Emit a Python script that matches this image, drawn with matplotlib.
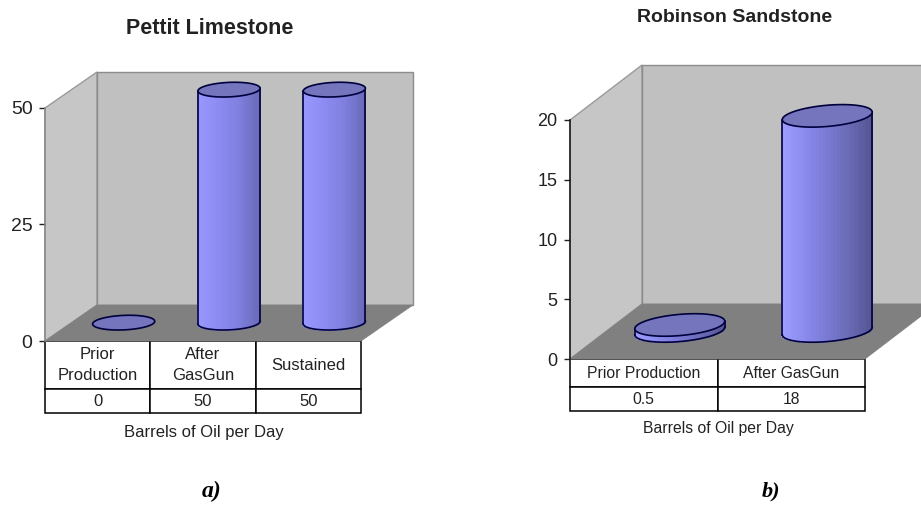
"""GasGun oil production, two 3D style cylinder charts"""
import numpy as np
import matplotlib
matplotlib.use('Agg')
import matplotlib.pyplot as plt
from matplotlib.colors import LinearSegmentedColormap

plt.rcParams['font.family'] = ['Liberation Sans', 'DejaVu Sans']

W, H = 921, 505

pettit_title = 'Pettit Limestone'
pettit_categories = ['Prior\nProduction', 'After\nGasGun', 'Sustained']
pettit_values = [0, 50, 50]
pettit_table = ['0', '50', '50']
pettit_ticks = [0, 25, 50]

robinson_title = 'Robinson Sandstone'
robinson_categories = ['Prior Production', 'After GasGun']
robinson_values = [0.5, 18]
robinson_table = ['0.5', '18']
robinson_ticks = [0, 5, 10, 15, 20]

xlabel = 'Barrels of Oil per Day'
EDGE = '#00003c'


def make_axes(fig, left, right, top, bottom):
    return fig.add_axes([left / W, 1 - bottom / H, (right - left) / W, (bottom - top) / H])


def draw_cylinder(ax, pos, value, ox, oy, cmap, half_w, tilt):
    a = half_w
    b = tilt * ox
    c = 0.205 * oy
    cx = pos + 0.5 + ox / 2
    cy = oy * 0.51
    t_right = np.arctan2(b, a)
    t = np.linspace(t_right + np.pi, t_right + 2 * np.pi, 41)
    xs = cx + a * np.cos(t) + b * np.sin(t)
    front = cy + c * np.sin(t)

    if value > 0:
        X = np.array([xs, xs])
        Y = np.array([front, front + value])
        mid = (xs[:-1] + xs[1:]) / 2
        C = ((mid - xs[0]) / (xs[-1] - xs[0]))[None, :]
        ax.pcolormesh(X, Y, C, cmap=cmap, vmin=0, vmax=1, clip_on=False, zorder=3,
                      edgecolors='face', linewidth=0.2)
        ax.plot(xs, front, color=EDGE, lw=1.2, clip_on=False, zorder=4)
        ax.plot([xs[0], xs[0]], [front[0], front[0] + value], color=EDGE, lw=1.2, clip_on=False, zorder=4)
        ax.plot([xs[-1], xs[-1]], [front[-1], front[-1] + value], color=EDGE, lw=1.2, clip_on=False, zorder=4)

    t = np.linspace(0, 2 * np.pi, 80)
    ax.fill(cx + a * np.cos(t) + b * np.sin(t), cy + value + c * np.sin(t),
            facecolor='#7575bd', edgecolor=EDGE, lw=1.2, clip_on=False, zorder=5)


def draw_panel(fig, box, depth, title, title_xy, categories, values, table, ticks, label_xy,
               row_px, tag, tag_x, axis_color, cmap, half_w, tilt, sizes):
    left, right, top, bottom = box
    title_size, tick_size, text_size, tag_size = sizes
    n = len(categories)
    ymax = ticks[-1]
    ax = make_axes(fig, left, right, top, bottom)
    ax.patch.set_visible(False)
    ax.set_xlim(0, n)
    ax.set_ylim(0, ymax)

    # depth offset of the back wall in data units
    ox = depth[0] / (right - left) * n
    oy = depth[1] / (bottom - top) * ymax

    ax.fill([0, 0, ox, ox], [0, ymax, ymax + oy, oy], facecolor='#c6c6c6',
            edgecolor='#9a9a9a', lw=1, clip_on=False, zorder=1)
    ax.fill([ox, ox, n + ox, n + ox], [oy, ymax + oy, ymax + oy, oy], facecolor='#c0c0c0',
            edgecolor='#8c8c8c', lw=1, clip_on=False, zorder=1)
    ax.fill([0, ox, n + ox, n], [0, oy, oy, 0], facecolor='#808080',
            edgecolor='#808080', lw=0.5, clip_on=False, zorder=2)

    for i, v in enumerate(values):
        draw_cylinder(ax, i, v, ox, oy, cmap, half_w, tilt)
    ax.set_xlim(0, n)
    ax.set_ylim(0, ymax)

    for side in ['top', 'right', 'bottom']:
        ax.spines[side].set_visible(False)
    ax.spines['left'].set_color(axis_color)
    ax.spines['left'].set_linewidth(1.1)
    ax.set_xticks([])
    ax.set_yticks(ticks)
    ax.tick_params(axis='y', length=4, width=1, color='#222222', pad=5, labelsize=tick_size,
                   labelcolor='#222222')

    h1, h2 = row_px
    total = (h1 + h2) / (bottom - top)
    tb = ax.table(cellText=[table], colLabels=categories, cellLoc='center',
                  bbox=[0, -total, 1, total])
    tb.auto_set_font_size(False)
    tb.set_fontsize(text_size)
    for j in range(n):
        tb[(0, j)].set_height(h1)
        tb[(1, j)].set_height(h2)
        tb[(0, j)].get_text().set_linespacing(1.45)
        for r in range(2):
            tb[(r, j)].set_linewidth(1.1)
            tb[(r, j)].get_text().set_color('#222222')

    fig.text(title_xy[0] / W, 1 - title_xy[1] / H, title, ha='center', va='center',
             fontsize=title_size, fontweight='bold', color='#222222')
    fig.text(label_xy[0] / W, 1 - label_xy[1] / H, xlabel, ha='center', va='center',
             fontsize=text_size, color='#222222')
    fig.text(tag_x / W, 1 - 491 / H, tag, ha='center', va='center', fontsize=tag_size,
             family='Liberation Serif', fontweight='bold', fontstyle='italic', color='black')


def main():
    fig = plt.figure(figsize=(W / 100, H / 100), dpi=100, facecolor='white')
    cmap_a = LinearSegmentedColormap.from_list('a', ['#9898ff', '#8c8cf2', '#8080e0', '#6a6ab8'])
    cmap_b = LinearSegmentedColormap.from_list('b', ['#9e9eff', '#8585e8', '#7070c0', '#565694'])

    draw_panel(fig, (45, 361, 108, 341), (52, 36), pettit_title, (210, 29),
               pettit_categories, pettit_values, pettit_table, pettit_ticks, (204, 432),
               (48, 24), 'a)', 212, '#8a8a8a', cmap_a, 0.29, 0.11, (15.5, 14, 12, 17))
    draw_panel(fig, (570, 865, 120, 359), (72, 55), robinson_title, (735, 17),
               robinson_categories, robinson_values, robinson_table, robinson_ticks, (718, 428),
               (28, 24), 'b)', 771, '#111111', cmap_b, 0.287, 0.21, (14, 13, 11.3, 16))

    fig.savefig('out.png', dpi=100)


if __name__ == '__main__':
    main()
